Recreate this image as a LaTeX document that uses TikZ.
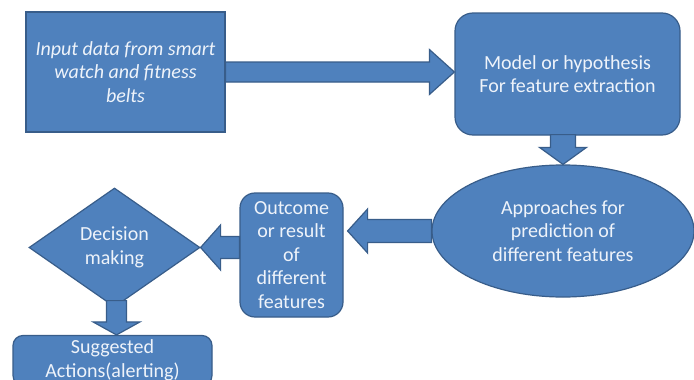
\documentclass[tikz,border=0pt]{standalone}
\usepackage{fontspec}
\setmainfont{Carlito}
\usetikzlibrary{shapes.geometric,calc}
\definecolor{boxfill}{HTML}{4F81BD}
\definecolor{boxline}{HTML}{385D8A}
\definecolor{boxtext}{HTML}{EEF3FA}
\tikzset{
  blockbase/.style={fill=boxfill,draw=boxline,line width=1.2pt,text=boxtext,align=center,
    font=\fontsize{20}{23.5}\selectfont,inner sep=0pt},
  sqbox/.style={blockbase,rectangle},
  rbox/.style={blockbase,rectangle,rounded corners=#1},
  ellbox/.style={blockbase,ellipse},
  diabox/.style={blockbase,diamond},
  barrow/.style={fill=boxfill,draw=boxline,line width=1.2pt,line join=miter}
}
% block arrows: start, end, body half, head half, head length
\newcommand{\arrR}[5]{\draw[barrow] let \p1=(#1),\p2=(#2) in
  (\x1,\y1+#3pt) -- (\x2-#5pt,\y1+#3pt) -- (\x2-#5pt,\y1+#4pt) -- (\x2,\y1) --
  (\x2-#5pt,\y1-#4pt) -- (\x2-#5pt,\y1-#3pt) -- (\x1,\y1-#3pt) -- cycle;}
\newcommand{\arrL}[5]{\draw[barrow] let \p1=(#1),\p2=(#2) in
  (\x1,\y1+#3pt) -- (\x2+#5pt,\y1+#3pt) -- (\x2+#5pt,\y1+#4pt) -- (\x2,\y1) --
  (\x2+#5pt,\y1-#4pt) -- (\x2+#5pt,\y1-#3pt) -- (\x1,\y1-#3pt) -- cycle;}
\newcommand{\arrD}[5]{\draw[barrow] let \p1=(#1),\p2=(#2) in
  (\x1+#3pt,\y1) -- (\x1+#3pt,\y2+#5pt) -- (\x1+#4pt,\y2+#5pt) -- (\x1,\y2) --
  (\x1-#4pt,\y2+#5pt) -- (\x1-#3pt,\y2+#5pt) -- (\x1-#3pt,\y1) -- cycle;}
\begin{document}
\begin{tikzpicture}[x=1pt,y=-1pt]
\useasboundingbox (0,0) rectangle (694,380);
\clip (0,0) rectangle (694,380);
\fill[white] (0,0) rectangle (694,380);

\node[sqbox,minimum width=199pt,minimum height=120pt] (input) at (125.5,72)
  {\itshape Input data from smart\\\itshape watch and fitness\\\itshape belts};
\node[rbox=18pt,minimum width=225pt,minimum height=122pt] (model) at (567.5,74)
  {Model or hypothesis\\For feature extraction};
\node[ellbox,minimum width=262pt,minimum height=132pt] (appr) at (563,231)
  {Approaches for\\prediction of\\different features};
\node[rbox=15pt,minimum width=103pt,minimum height=124pt] (outc) at (291.5,255)
  {Outcome\\or result\\of\\different\\features};
\node[diabox,minimum width=171pt,minimum height=119pt] (dec) at (114.5,247.5)
  {Decision\\making};
\node[rbox=10pt,minimum width=199pt,minimum height=50pt] (sugg) at (112.5,360.5)
  {Suggested\\Actions(alerting)};

\coordinate (a1e) at (input.east -| model.west);
\arrR{input.east}{a1e}{10}{22.5}{25}
\coordinate (a2s) at ($(model.south -| appr.north)+(0,-1)$);
\arrD{a2s}{appr.north}{12.5}{23.5}{17}
\coordinate (a3e) at ($(appr.west -| outc.east)+(4,0)$);
\arrL{appr.west}{a3e}{11.5}{22}{20}
\coordinate (a4s) at (dec.east -| outc.west);
\arrL{a4s}{dec.east}{11}{22.5}{20}
\coordinate (a5s) at ($(dec.south)+(2,-7)$);
\coordinate (a5e) at (a5s |- sugg.north);
\arrD{a5s}{a5e}{10}{23.5}{13}
\end{tikzpicture}
\end{document}
